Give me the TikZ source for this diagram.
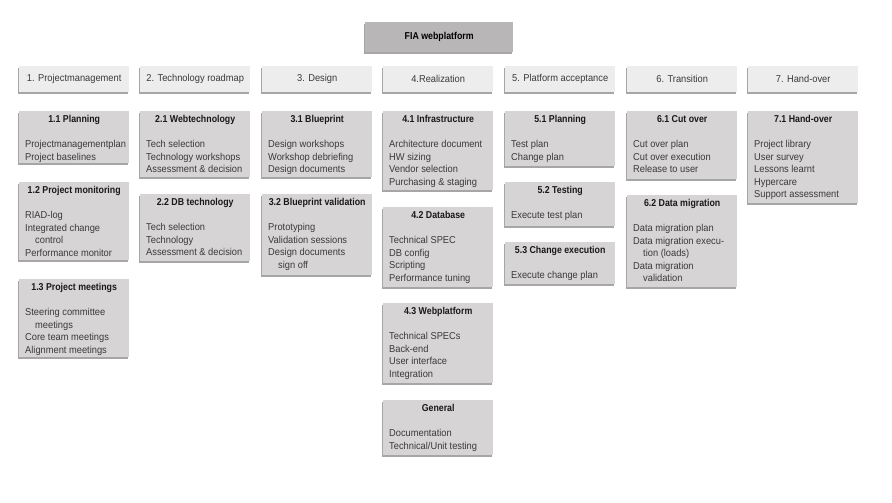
\documentclass[tikz,border=0pt]{standalone}
\usepackage{fontspec}
\setmainfont{Liberation Sans}[FakeStretch=0.93, BoldFeatures={FakeStretch=0.88}]
\usepackage{tikz}
\usetikzlibrary{shadows}
\definecolor{titlegray}{HTML}{B8B6B6}
\definecolor{phasegray}{HTML}{EEEDED}
\definecolor{taskgray}{HTML}{D6D4D4}
\definecolor{bodytext}{HTML}{3A3A3A}
\newcommand{\tasktext}[3]{\parbox[t][#1][t]{98pt}{\vspace*{4.4pt}\makebox[\linewidth]{\textbf{\color{black!90}#2}}\par\vspace{12.5pt}\raggedright\color{bodytext}#3}}
\newcommand{\ind}{\hspace*{10pt}}

\begin{document}
\begin{tikzpicture}[x=1pt, y=-1pt, font=\fontsize{10}{12.5}\selectfont,
    shade/.style={drop shadow={shadow xshift=-1.2pt, shadow yshift=-1.8pt, fill=black, opacity=0.35}},
    titlebox/.style={shade, fill=titlegray, anchor=north west, minimum width=148pt, minimum height=30pt, inner sep=0pt, font=\fontsize{10}{12.5}\selectfont\bfseries},
    phase/.style={shade, fill=phasegray, anchor=north west, minimum width=110pt, minimum height=26pt, inner sep=0pt, text=bodytext},
    task/.style={shade, fill=taskgray, anchor=north west, inner xsep=6pt, inner ysep=0pt}]
    \useasboundingbox (0, 0) rectangle (892, 503);

    \node (fia) [titlebox] at (365, 22) {FIA webplatform};

    \node (pm) [phase] at (19, 66) {1. Projectmanagement};
    \node (tr) [phase] at (140, 66) {2. Technology roadmap};
    \node (ds) [phase] at (262, 66) {3. Design};
    \node (rl) [phase] at (383, 66) {4.Realization};
    \node (pa) [phase] at (505, 66) {5. Platform acceptance};
    \node (tn) [phase] at (627, 66) {6. Transition};
    \node (ho) [phase] at (748, 66) {7. Hand-over};

    \node (p11) [task] at (19, 111) {\tasktext{52pt}{1.1 Planning}{Projectmanagementplan\\Project baselines}};
    \node (p12) [task] at (19, 182) {\tasktext{78pt}{1.2 Project monitoring}{RIAD-log\\Integrated change\\\ind control\\Performance monitor}};
    \node (p13) [task] at (19, 279) {\tasktext{78pt}{1.3 Project meetings}{Steering committee\\\ind meetings\\Core team meetings\\Alignment meetings}};

    \node (t21) [task] at (140, 111) {\tasktext{66pt}{2.1 Webtechnology}{Tech selection\\Technology workshops\\Assessment \& decision}};
    \node (t22) [task] at (140, 194) {\tasktext{67pt}{2.2 DB technology}{Tech selection\\Technology\\Assessment \& decision}};

    \node (d31) [task] at (262, 111) {\tasktext{66pt}{3.1 Blueprint}{Design workshops\\Workshop debriefing\\Design documents}};
    \node (d32) [task] at (262, 194) {\tasktext{81pt}{3.2 Blueprint validation}{Prototyping\\Validation sessions\\Design documents\\\ind sign off}};

    \node (r41) [task] at (383, 111) {\tasktext{79pt}{4.1 Infrastructure}{Architecture document\\HW sizing\\Vendor selection\\Purchasing \& staging}};
    \node (r42) [task] at (383, 207) {\tasktext{80pt}{4.2 Database}{Technical SPEC\\DB config\\Scripting\\Performance tuning}};
    \node (r43) [task] at (383, 303) {\tasktext{80pt}{4.3 Webplatform}{Technical SPECs\\Back-end\\User interface\\Integration}};
    \node (rgen) [task] at (383, 400) {\tasktext{55pt}{General}{Documentation\\Technical/Unit testing}};

    \node (a51) [task] at (505, 111) {\tasktext{55pt}{5.1 Planning}{Test plan\\Change plan}};
    \node (a52) [task] at (505, 182) {\tasktext{44pt}{5.2 Testing}{Execute test plan}};
    \node (a53) [task] at (505, 242) {\tasktext{42pt}{5.3 Change execution}{Execute change plan}};

    \node (n61) [task] at (627, 111) {\tasktext{68pt}{6.1 Cut over}{Cut over plan\\Cut over execution\\Release to user}};
    \node (n62) [task] at (627, 195) {\tasktext{92pt}{6.2 Data migration}{Data migration plan\\Data migration execu-\\\ind tion (loads)\\Data migration\\\ind validation}};

    \node (h71) [task] at (748, 111) {\tasktext{92pt}{7.1 Hand-over}{Project library\\User survey\\Lessons learnt\\Hypercare\\Support assessment}};
\end{tikzpicture}
\end{document}
